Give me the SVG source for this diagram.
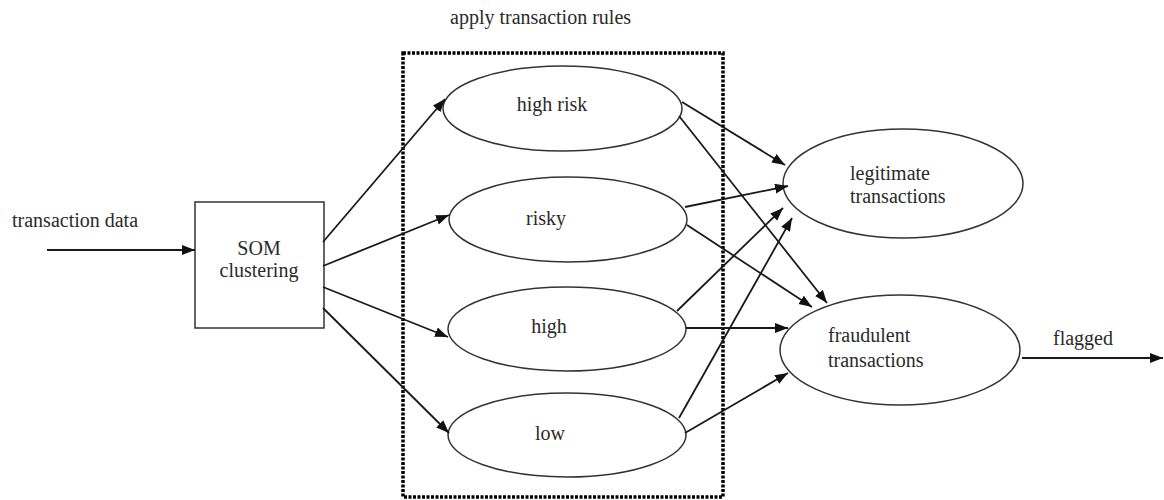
<svg xmlns="http://www.w3.org/2000/svg" width="1164" height="500" viewBox="0 0 1164 500">
<defs>
<marker id="ah" markerUnits="userSpaceOnUse" markerWidth="14" markerHeight="12" refX="13" refY="5" orient="auto">
<path d="M0,0 L13,5 L0,10 Z" fill="#111"/>
</marker>
<style>
text{font-family:"Liberation Serif","Times New Roman",serif;font-size:20px;fill:#2a2a2a}
.node{fill:#fff;stroke:#333;stroke-width:1.5}
.c{stroke:#1a1a1a;stroke-width:1.8;fill:none;marker-end:url(#ah)}
.mid{text-anchor:middle}
.group{fill:none;stroke:#000;stroke-width:3.5;stroke-dasharray:3 1.5}
</style>
</defs>
<rect width="1164" height="500" fill="#fff"/>
<g id="rules-group">
<rect class="group" x="403" y="53" width="320" height="444"/>
<text x="450" y="24">apply transaction rules</text>
</g>
<g id="input-label"><text x="12" y="227">transaction data</text></g>
<g id="som"><rect class="node" x="195" y="202" width="129" height="126"/><text class="mid" x="259" y="255">SOM</text><text class="mid" x="259" y="277">clustering</text></g>
<g id="high-risk"><ellipse class="node" cx="562.5" cy="108.5" rx="119.5" ry="42.5"/><text class="mid" x="552" y="111">high risk</text></g>
<g id="risky"><ellipse class="node" cx="568" cy="219.5" rx="119" ry="42.5"/><text class="mid" x="546" y="225">risky</text></g>
<g id="high"><ellipse class="node" cx="567" cy="329" rx="119" ry="42"/><text class="mid" x="549" y="333">high</text></g>
<g id="low"><ellipse class="node" cx="567" cy="435" rx="119" ry="42"/><text class="mid" x="550" y="440">low</text></g>
<g id="legitimate"><ellipse class="node" cx="903" cy="183.5" rx="120" ry="54.5"/><text x="850" y="180">legitimate</text><text x="850" y="203">transactions</text></g>
<g id="fraudulent"><ellipse class="node" cx="900" cy="350" rx="120" ry="55"/><text x="828" y="342">fraudulent</text><text x="828" y="367">transactions</text></g>
<g id="output-label"><text x="1053" y="345">flagged</text></g>
<g id="connectors">
<line class="c" x1="47" y1="250" x2="195" y2="250"/>
<line class="c" x1="323" y1="242" x2="445" y2="99"/>
<line class="c" x1="323" y1="266" x2="449" y2="215"/>
<line class="c" x1="323" y1="287" x2="448" y2="337"/>
<line class="c" x1="323" y1="308" x2="449" y2="433"/>
<line class="c" x1="682" y1="102" x2="785" y2="165"/>
<line class="c" x1="679" y1="116" x2="827" y2="303"/>
<line class="c" x1="685" y1="207" x2="788" y2="186"/>
<line class="c" x1="687" y1="225" x2="812" y2="307"/>
<line class="c" x1="677" y1="311" x2="783" y2="208"/>
<line class="c" x1="686" y1="328" x2="788" y2="328"/>
<line class="c" x1="679" y1="418" x2="792" y2="218"/>
<line class="c" x1="685" y1="433" x2="788" y2="373"/>
<line class="c" x1="1022" y1="358" x2="1163" y2="358"/>
</g>
</svg>
